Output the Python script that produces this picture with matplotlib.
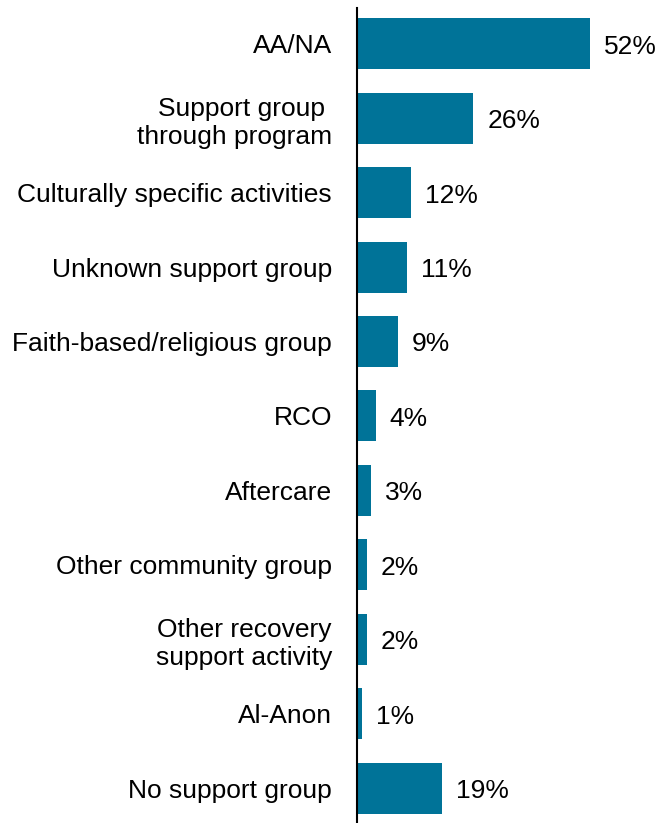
import matplotlib
matplotlib.use("Agg")
import matplotlib.pyplot as plt

categories = ["AA/NA", "Support group \nthrough program", "Culturally specific activities",
              "Unknown support group", "Faith-based/religious group", "RCO", "Aftercare",
              "Other community group", "Other recovery\nsupport activity", "Al-Anon",
              "No support group"]
values = [52, 26, 12, 11, 9, 4, 3, 2, 2, 1, 19]
bar_lengths = [52, 26, 12, 11.1, 9.1, 4.2, 3.1, 2.2, 2.2, 1.1, 19]
value_labels = ["52%", "26%", "12%", "11%", "9%", "4%", "3%", "2%", "2%", "1%", "19%"]

plt.rcParams['font.family'] = ['Liberation Sans', 'DejaVu Sans']

fig = plt.figure(figsize=(6.59, 8.23), dpi=100)
ax = fig.add_axes([357/659, 0, 1 - 357/659, 1 - 8/823])

color = "#007398"
y = list(range(len(categories)))
ax.barh(y, bar_lengths, height=0.685, color=color)
for yi, v, lab in zip(y, bar_lengths, value_labels):
    ax.text(v + 14/4.48, yi + 0.04, lab, va="center", ha="left", fontsize=19, color="black")

ax.set_ylim(10.47, -0.48)
ax.set_xlim(0, (659 - 357) / 4.48)
ax.set_yticks(y)
ax.set_yticklabels(categories, fontsize=19, linespacing=1.25)
ax.tick_params(axis="y", length=0, pad=18)
ax.set_xticks([])
for s in ["top", "right", "bottom"]:
    ax.spines[s].set_visible(False)
ax.spines["left"].set_linewidth(1.5)
ax.spines["left"].set_color("black")

fig.savefig("out.png", dpi=100)
